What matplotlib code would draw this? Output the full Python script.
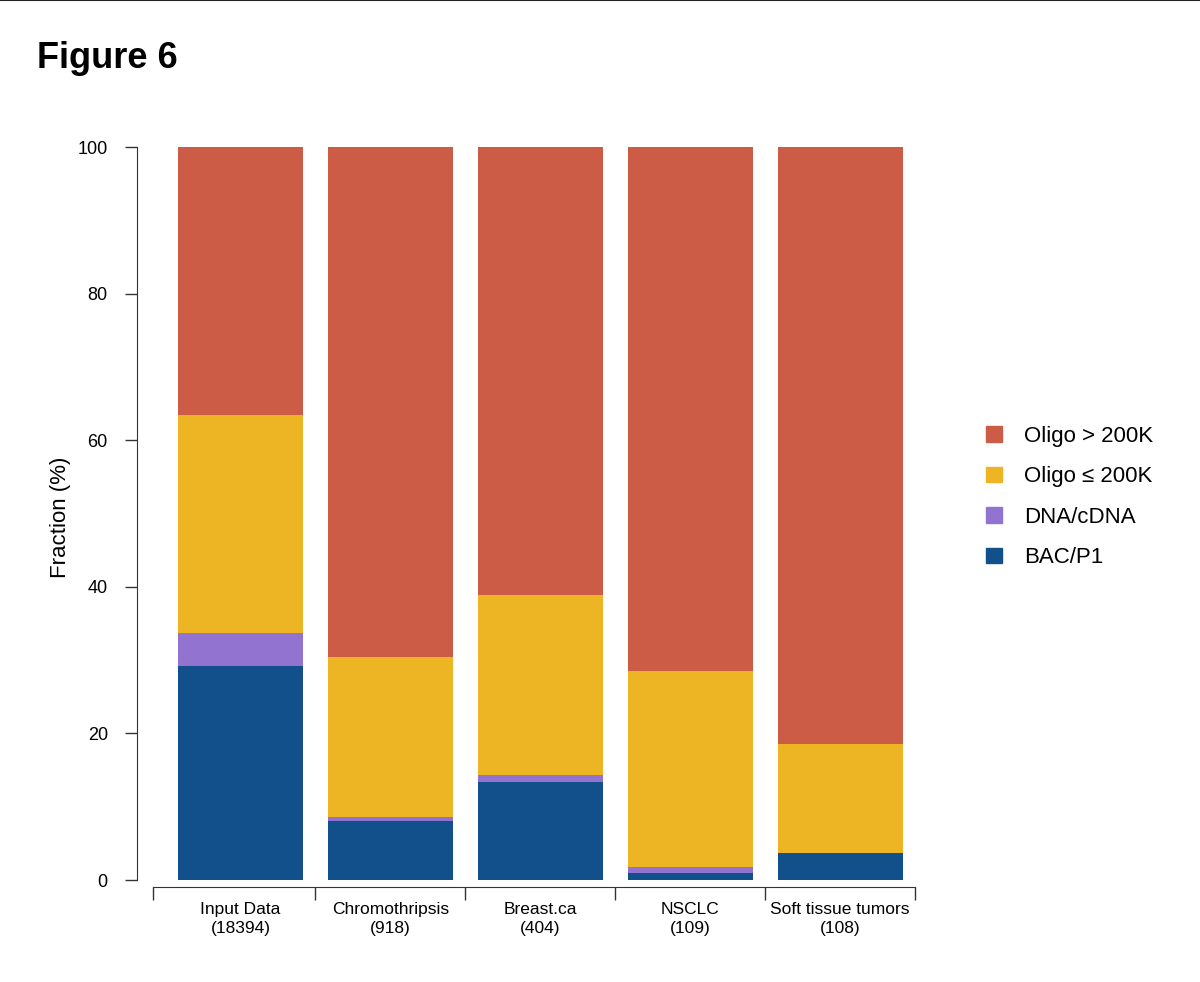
import matplotlib
matplotlib.use("Agg")
import matplotlib.pyplot as plt
from matplotlib.patches import Patch
from matplotlib.lines import Line2D
import numpy as np

plt.rcParams['font.family'] = ['Liberation Sans', 'DejaVu Sans']

# data (percent of each group)
groups = ["Input Data\n(18394)", "Chromothripsis\n(918)", "Breast.ca\n(404)",
          "NSCLC\n(109)", "Soft tissue tumors\n(108)"]
bac_p1 = [29.2, 8.1, 13.4, 0.9, 3.7]
dna_cdna = [4.5, 0.55, 0.9, 0.9, 0.0]
oligo_small = [29.8, 21.8, 24.6, 26.7, 14.8]
oligo_large = [36.5, 69.55, 61.1, 71.5, 81.5]

series = ["BAC/P1", "DNA/cDNA", "Oligo \u2264 200K", "Oligo > 200K"]
colors = ["#11508A", "#9274D0", "#EDB424", "#CD5C47"]

fig = plt.figure(figsize=(12, 9.82), dpi=100)
ax = fig.add_axes([137 / 1200, 1 - 887 / 982, (915 - 137) / 1200, (887 - 147) / 982])

x = np.arange(len(groups)) * 1.2
bottom = np.zeros(len(groups))
for name, vals, c in zip(series, [bac_p1, dna_cdna, oligo_small, oligo_large], colors):
    ax.bar(x, vals, width=1.0, bottom=bottom, color=c, label=name, linewidth=0)
    bottom += np.array(vals)

ax.set_xlim(-0.828, 5.396)
ax.set_ylim(-0.95, 100)

# R-style detached axes
for s in ["top", "right"]:
    ax.spines[s].set_visible(False)
ax.spines["left"].set_bounds(0, 100)
ax.spines["bottom"].set_bounds(-0.7, 5.4)
ax.spines["left"].set_color("#333333")
ax.spines["bottom"].set_color("#333333")

ax.set_yticks([0, 20, 40, 60, 80, 100])
ax.tick_params(axis="y", labelsize=13, length=9, width=1, color="#333333", pad=12)
ax.set_xticks([-0.7, 0.6, 1.8, 3.0, 4.2, 5.4])
ax.set_xticklabels([])
ax.tick_params(axis="x", length=9, width=1, color="#333333")
for xi, lab in zip(x, groups):
    ax.text(xi, -3.0, lab, ha="center", va="top", fontsize=12.5, linespacing=1.35)

ax.set_ylabel("Fraction (%)", fontsize=16, labelpad=5)

handles = [Patch(color=c, label=n) for n, c in zip(series, colors)][::-1]
fig.legend(handles=handles, loc="center left", bbox_to_anchor=(0.805, 0.494),
           frameon=False, fontsize=16, handlelength=0.7, handleheight=0.7,
           labelspacing=0.88, handletextpad=1.0)

fig.text(37 / 1200, 1 - 58 / 982, "Figure 6", fontsize=26, fontweight="bold",
         ha="left", va="center")
fig.add_artist(Line2D([0, 1], [0.9995, 0.9995], color="#222222", linewidth=1.5))

fig.savefig("out.png", dpi=100)
